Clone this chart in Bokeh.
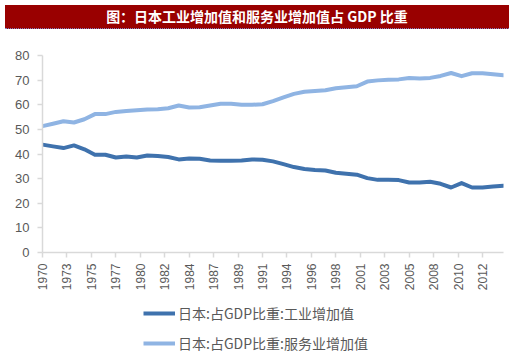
from bokeh.plotting import figure
from bokeh.models import Div, FixedTicker, Legend, LegendItem, ColumnDataSource
from bokeh.layouts import column
from bokeh.embed import file_html
from bokeh.resources import INLINE
import math

title_text = "图：日本工业增加值和服务业增加值占 GDP 比重"
series_names = ["日本:占GDP比重:工业增加值", "日本:占GDP比重:服务业增加值"]

years = list(range(1970, 2015))
industry = [43.8, 43.1, 42.4, 43.5, 41.9, 39.7, 39.7, 38.6, 39.0, 38.6,
            39.4, 39.2, 38.8, 37.8, 38.2, 38.1, 37.4, 37.3, 37.3, 37.4,
            37.8, 37.7, 37.0, 35.9, 34.7, 33.9, 33.5, 33.3, 32.4, 32.0,
            31.6, 30.2, 29.5, 29.5, 29.4, 28.4, 28.4, 28.7, 27.9, 26.4,
            28.2, 26.4, 26.4, 26.8, 27.1]
services = [51.3, 52.3, 53.3, 52.8, 54.1, 56.2, 56.2, 57.1, 57.5, 57.8,
            58.1, 58.2, 58.6, 59.7, 58.9, 59.0, 59.7, 60.4, 60.4, 60.0,
            60.0, 60.2, 61.5, 63.0, 64.4, 65.3, 65.6, 65.9, 66.7, 67.1,
            67.5, 69.4, 69.9, 70.2, 70.3, 70.9, 70.7, 70.9, 71.7, 72.9,
            71.6, 72.8, 72.8, 72.4, 72.0]

x_tick_labels = ["1970", "1973", "1975", "1977", "1980", "1982", "1984", "1987",
                 "1989", "1991", "1994", "1996", "1998", "2001", "2003", "2005",
                 "2008", "2010", "2012"]
y_ticks = [0, 10, 20, 30, 40, 50, 60, 70, 80]

IND_COLOR = "#3f72ad"
SRV_COLOR = "#8fb4e3"

# Excel date axis: one label every 28 months starting at the first point
x_ticks = [years[0] + i * 28 / 12 for i in range(len(x_tick_labels))]

header = Div(
    text=title_text, width=504, height=24,
    styles={"background-color": "#990000", "color": "white",
            "font-family": "'Noto Sans CJK SC'", "font-size": "14px",
            "font-weight": "bold", "text-align": "center",
            "line-height": "23px", "border-bottom": "1px dotted #7f7fbf",
            "box-sizing": "border-box", "width": "504px",
            "white-space": "nowrap"},
)

p = figure(width=504, height=260, output_backend="svg", toolbar_location=None,
           x_range=(years[0], years[-1]), y_range=(0, 80),
           min_border_left=42, min_border_right=1, min_border_top=21,
           min_border_bottom=42)
p.outline_line_color = None
p.grid.visible = False

src = ColumnDataSource(dict(x=years, ind=industry, srv=services))
p.line("x", "ind", source=src, line_color=IND_COLOR, line_width=4,
       line_join="round", line_cap="round")
p.line("x", "srv", source=src, line_color=SRV_COLOR, line_width=4,
       line_join="round", line_cap="round")

for ax in (p.xaxis[0], p.yaxis[0]):
    ax.axis_line_color = "#d9d9d9"
    ax.axis_line_width = 1.5
    ax.major_tick_line_color = "#d9d9d9"
    ax.major_tick_line_width = 1.5
    ax.major_tick_out = 5
    ax.major_tick_in = 0
    ax.minor_tick_line_color = None
    ax.major_label_text_color = "#595959"
    ax.major_label_text_font = "Liberation Sans"

p.yaxis.ticker = FixedTicker(ticks=y_ticks)
p.yaxis.major_label_text_font_size = "13px"
p.yaxis.major_label_standoff = 8

p.xaxis.ticker = FixedTicker(ticks=x_ticks)
p.xaxis.major_label_overrides = {t: l for t, l in zip(x_ticks, x_tick_labels)}
p.xaxis.major_label_orientation = math.pi / 2
p.xaxis.major_label_text_font_size = "12px"
p.xaxis.major_label_standoff = 6

# Legend lives in its own small figure below the chart
lf = figure(width=504, height=59, output_backend="svg", toolbar_location=None,
            x_range=(0, 1), y_range=(0, 1), min_border=0,
            min_border_left=0, min_border_right=0, min_border_top=0,
            min_border_bottom=0)
lf.axis.visible = False
lf.grid.visible = False
lf.outline_line_color = None
# same series, drawn outside the legend figure's visible range
l1 = lf.line("x", "ind", source=src, line_color=IND_COLOR, line_width=4)
l2 = lf.line("x", "srv", source=src, line_color=SRV_COLOR, line_width=4)

legend = Legend(items=[LegendItem(label=series_names[0], renderers=[l1]),
                       LegendItem(label=series_names[1], renderers=[l2])],
                location=(101, 0), orientation="vertical")
legend.border_line_color = None
legend.background_fill_alpha = 0
legend.padding = 0
legend.margin = 0
legend.spacing = 10
legend.glyph_width = 32
legend.glyph_height = 14
legend.label_height = 14
legend.label_standoff = 3
legend.label_text_font = "Noto Sans CJK SC"
legend.label_text_font_size = "14px"
legend.label_text_color = "#595959"
lf.add_layout(legend, "center")

layout = column(header, p, lf, spacing=0)
open("out.html", "w").write(file_html(layout, INLINE))
